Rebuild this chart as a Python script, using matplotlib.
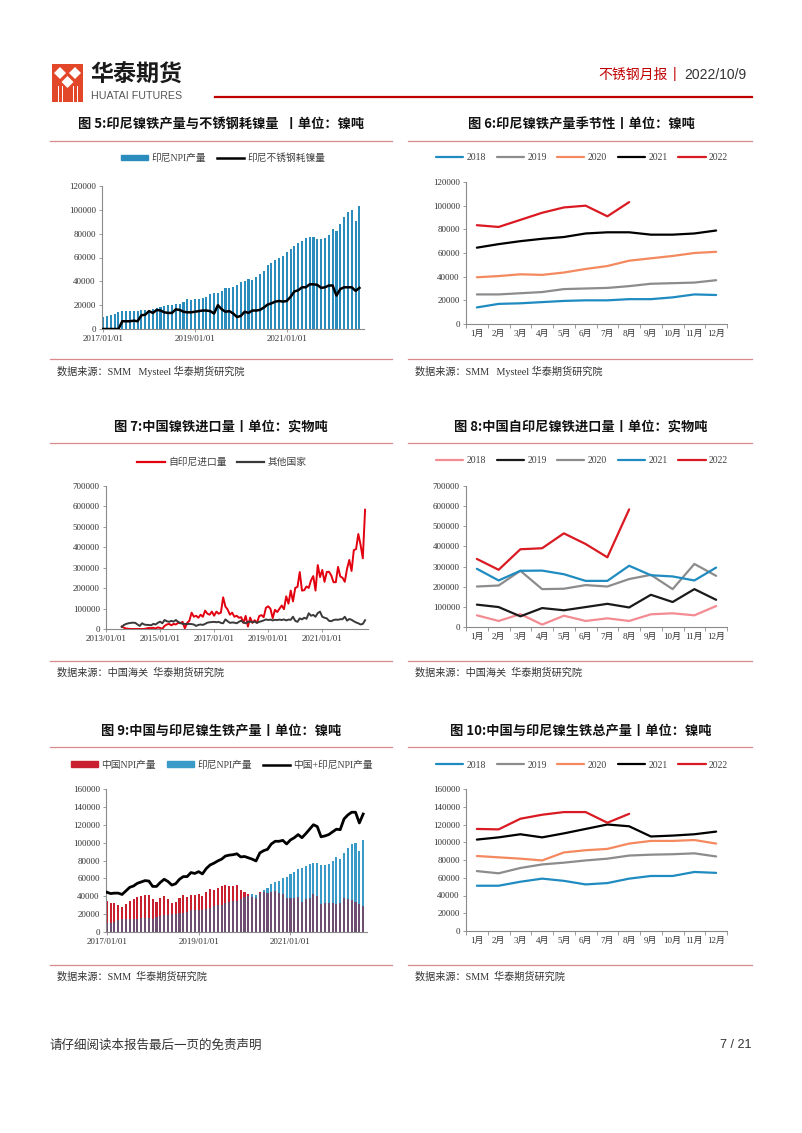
import numpy as np
import matplotlib
matplotlib.use('Agg')
import matplotlib.pyplot as plt
from matplotlib.patches import Rectangle, Polygon, Patch
from matplotlib.lines import Line2D
from matplotlib.ticker import FuncFormatter

W, H = 802, 1133
SERIF = ['Liberation Serif', 'Noto Sans CJK SC']
CJK = ['Noto Sans CJK SC', 'DejaVu Sans']
plt.rcParams['font.family'] = SERIF
plt.rcParams['axes.unicode_minus'] = False

# ---------------- data ----------------
months = ['1月', '2月', '3月', '4月', '5月', '6月', '7月', '8月', '9月', '10月', '11月', '12月']
years = ['2018', '2019', '2020', '2021', '2022']

# Indonesian NPI output (Ni t), monthly
indo_2017 = [10000, 10500, 11500, 13000, 14500, 15000, 15000, 15000, 15000, 15500, 16000, 16000]
indo_2018 = [14000, 17000, 17500, 18500, 19500, 20000, 20000, 21000, 21000, 22500, 25000, 24500]
indo_2019 = [25000, 25000, 26000, 27000, 29500, 30000, 30500, 32000, 34000, 34500, 35000, 37000]
indo_2020 = [39500, 40500, 42000, 41500, 43500, 46500, 49000, 53500, 55500, 57500, 60000, 61000]
indo_2021 = [64500, 67500, 70000, 72000, 73500, 76500, 77500, 77500, 75500, 75500, 76500, 79000]
indo_2022 = [83500, 82000, 88000, 94000, 98500, 100000, 91000, 103000]

# Indonesian stainless steel nickel consumption, 2017/01 - 2022/08
ss_ni = [0, 0, 0, 0, 0, 6500, 6500, 6500, 7000, 6500, 11500, 12000,
         15000, 13500, 16000, 15500, 14000, 13500, 13500, 16500, 16000, 14500, 14000, 14000,
         14500, 15000, 15500, 15500, 15000, 13000, 20000, 16500, 14500, 15000, 13000, 10000,
         11000, 14500, 13500, 15500, 15500, 16000, 18000, 20500, 21500, 23000, 23500, 23000,
         23500, 27000, 31500, 32500, 35000, 35000, 37500, 37500, 37000, 34500, 35000, 36500,
         36500, 28000, 33500, 35000, 35000, 35000, 32000, 34500]

# China NPI output (Ni t)
china_2017 = [34500, 32500, 32000, 30500, 27500, 31000, 35000, 36500, 39500, 40500, 41500, 41000]
china_2018 = [37000, 34000, 38000, 40500, 37000, 32500, 34000, 38000, 41000, 39500, 41500, 41000]
china_2019 = [42500, 40000, 45000, 48000, 47500, 49500, 51000, 53000, 52000, 52000, 52500, 47000]
china_2020 = [45000, 42500, 39500, 38000, 45000, 44500, 43500, 45000, 46000, 44000, 42500, 37500]
china_2021 = [38500, 38000, 39000, 33500, 36500, 38500, 42500, 40500, 31000, 32000, 32500, 33000]
china_2022 = [31500, 32500, 38500, 37000, 35500, 34000, 31000, 29000]

# China + Indonesia NPI output (Ni t)
total_2017 = [44500, 43000, 43500, 43500, 42000, 46000, 50000, 51500, 54500, 56000, 57500, 57000]
total_2018 = [51000, 51000, 55500, 59000, 56500, 52500, 54000, 59000, 62000, 62000, 66500, 65500]
total_2019 = [67500, 65000, 71000, 75000, 77000, 79500, 81500, 85000, 86000, 86500, 87500, 84000]
total_2020 = [84500, 83000, 81500, 79500, 88500, 91000, 92500, 98500, 101500, 101500, 102500, 98500]
total_2021 = [103000, 105500, 109000, 105500, 110000, 115000, 120000, 118000, 106500, 107500, 109000, 112000]
total_2022 = [115000, 114500, 126500, 131000, 134000, 134000, 122000, 132000]

# China NPI imports from Indonesia (physical t); 2013 starts in August
imp_idn_2013 = [12000, 6000, 2000, 1000, 0]
imp_idn_2014 = [0, 0, 0, 0, 0, 0, 3000, 5000, 4000, 6000, 2000, 8000]
imp_idn_2015 = [5000, 1000, 15000, 22000, 25000, 18000, 25000, 22000, 30000, 28000, 35000, 3000]
imp_idn_2016 = [30000, 40000, 80000, 60000, 65000, 55000, 70000, 60000, 90000, 75000, 70000, 85000]
imp_idn_2017 = [65000, 85000, 75000, 80000, 155000, 110000, 95000, 70000, 80000, 60000, 65000, 55000]
imp_idn_2018 = [58000, 30000, 64000, 12000, 56000, 30000, 43000, 30000, 63000, 68000, 58000, 104000]
imp_idn_2019 = [111000, 99000, 53000, 94000, 83000, 99000, 115000, 97000, 160000, 124000, 188000, 135000]
imp_idn_2020 = [201000, 206000, 279000, 188000, 190000, 208000, 201000, 238000, 259000, 188000, 313000, 254000]
imp_idn_2021 = [289000, 231000, 279000, 280000, 262000, 229000, 229000, 304000, 257000, 251000, 231000, 295000]
imp_idn_2022 = [338000, 284000, 386000, 391000, 465000, 412000, 346000, 584000]

# China NPI imports from other countries (physical t); 2013 starts in August
imp_oth_2013 = [10000, 20000, 25000, 28000, 30000]
imp_oth_2014 = [31000, 30000, 22000, 15000, 28000, 22000, 20000, 20000, 18000, 25000, 22000, 30000]
imp_oth_2015 = [36000, 28000, 44000, 38000, 35000, 40000, 36000, 44000, 35000, 30000, 25000, 25000]
imp_oth_2016 = [24000, 25000, 24000, 22000, 15000, 20000, 22000, 20000, 25000, 31000, 33000, 34000]
imp_oth_2017 = [35000, 33000, 35000, 30000, 28000, 47000, 38000, 30000, 32000, 31000, 28000, 35000]
imp_oth_2018 = [41000, 32000, 28000, 35000, 36000, 33000, 36000, 30000, 35000, 38000, 42000, 47000]
imp_oth_2019 = [44000, 46000, 42000, 45000, 44000, 46000, 44000, 47000, 42000, 46000, 45000, 60000]
imp_oth_2020 = [40000, 35000, 52000, 47000, 55000, 50000, 77000, 65000, 69000, 60000, 78000, 85000]
imp_oth_2021 = [60000, 55000, 52000, 40000, 38000, 44000, 46000, 45000, 48000, 48000, 60000, 41000]
imp_oth_2022 = [49000, 45000, 38000, 32000, 28000, 22000, 25000, 43000]

date_ticks_17 = ['2017/01/01', '2019/01/01', '2021/01/01']
date_ticks_13 = ['2013/01/01', '2015/01/01', '2017/01/01', '2019/01/01', '2021/01/01']

# --------------- assemble ---------------
indo_npi = indo_2017 + indo_2018 + indo_2019 + indo_2020 + indo_2021 + indo_2022
china_npi = china_2017 + china_2018 + china_2019 + china_2020 + china_2021 + china_2022
total_npi = total_2017 + total_2018 + total_2019 + total_2020 + total_2021 + total_2022
imp_idn = (imp_idn_2013 + imp_idn_2014 + imp_idn_2015 + imp_idn_2016 + imp_idn_2017 +
           imp_idn_2018 + imp_idn_2019 + imp_idn_2020 + imp_idn_2021 + imp_idn_2022)
imp_oth = (imp_oth_2013 + imp_oth_2014 + imp_oth_2015 + imp_oth_2016 + imp_oth_2017 +
           imp_oth_2018 + imp_oth_2019 + imp_oth_2020 + imp_oth_2021 + imp_oth_2022)

C_BLUE = '#1F8BC0'
C_GRAY = '#8C8C8C'
C_ORANGE = '#F4895F'
C_BLACK = '#000000'
C_RED = '#DA1A22'
C_PINK = '#F28C92'
C_BAR = '#2B8CBE'
TXT = '#333333'
SPINE = '#8a8a8a'

fig = plt.figure(figsize=(W / 100, H / 100), dpi=100)
deco = fig.add_axes([0, 0, 1, 1], zorder=-1)
deco.set_xlim(0, W)
deco.set_ylim(H, 0)
deco.axis('off')


def pax(l, t, r, b):
    return fig.add_axes([l / W, 1 - b / H, (r - l) / W, (b - t) / H])


def style(ax, ymax, ystep):
    for s in ['top', 'right']:
        ax.spines[s].set_visible(False)
    for s in ['left', 'bottom']:
        ax.spines[s].set_color(SPINE)
        ax.spines[s].set_linewidth(0.8)
    ax.set_ylim(0, ymax)
    ax.set_yticks(np.arange(0, ymax + 1, ystep))
    ax.yaxis.set_major_formatter(FuncFormatter(lambda v, p: f'{int(v)}'))
    ax.tick_params(axis='y', labelsize=6.5, labelcolor=TXT, length=2.5, width=0.6,
                   color=SPINE, pad=2)
    ax.tick_params(axis='x', labelsize=6.5, labelcolor=TXT, length=2.5, width=0.6,
                   color=SPINE, pad=2)
    ax.patch.set_alpha(0)


def seasonal(ax, data, colors, ymax, ystep):
    for lab, vals, c in zip(years, data, colors):
        ax.plot(np.arange(len(vals)), vals, color=c, lw=1.6, label=lab, solid_capstyle='round')
    style(ax, ymax, ystep)
    ax.set_xlim(-0.5, 11.5)
    ax.set_xticks(np.arange(12))
    ax.set_xticklabels(months)
    ax.set_xticks(np.arange(-0.5, 12, 1), minor=True)
    ax.tick_params(axis='x', which='major', length=0, pad=4.5)
    ax.tick_params(axis='x', which='minor', length=3, width=0.6, color=SPINE)


def legend(handles, labels, cx, cy):
    lg = fig.legend(handles, labels, loc='center', bbox_to_anchor=(cx / W, 1 - cy / H),
                    bbox_transform=fig.transFigure, ncol=len(labels), frameon=False,
                    fontsize=7, handlelength=2.8, handleheight=0.5, handletextpad=0.35,
                    columnspacing=1.1, borderpad=0, borderaxespad=0)
    for t in lg.get_texts():
        t.set_color('#404040')
    return lg


def frame(cx, ty, title, ly, sy, src, x0, x1):
    deco.text(cx, ty, title, ha='center', va='center', fontsize=9.5, fontweight='bold',
              family=CJK, color='#111111')
    deco.plot([x0, x1], [ly, ly], color='#D8898C', lw=0.9)
    deco.plot([x0, x1], [sy - 12, sy - 12], color='#D8898C', lw=0.9)
    deco.text(x0 + 7, sy, src, ha='left', va='center', fontsize=7.3, family=SERIF, color=TXT)


# ---------------- header ----------------
deco.add_patch(Rectangle((52, 64), 31, 38, color='#E2472A', lw=0))
for (cx, cy) in [(60, 73), (75, 73), (67.5, 82)]:
    deco.add_patch(Polygon([(cx, cy - 6), (cx + 6, cy), (cx, cy + 6), (cx - 6, cy)],
                           closed=True, color='white', lw=0))
for x in [58, 62, 73, 77]:
    deco.add_patch(Rectangle((x, 86), 1.4, 16, color='white', lw=0))
deco.text(90, 75, '华泰期货', ha='left', va='center', fontsize=16.6, fontweight='bold',
          family=CJK, color='#1a1a1a')
deco.text(91, 96, 'HUATAI FUTURES', ha='left', va='center', fontsize=7.7,
          family=['Liberation Sans'], color='#555555')
deco.text(668, 75, '不锈钢月报', ha='right', va='center', fontsize=10, family=CJK, color='#C00000')
deco.text(675, 74, '|', ha='center', va='center', fontsize=10, family=['Liberation Sans'],
          color='#C00000')
deco.text(684, 75, '2022/10/9', ha='left', va='center', fontsize=10,
          family=['Liberation Sans'], color='#333333')
deco.plot([215, 752], [97, 97], color='#C00000', lw=1.6)

# ---------------- titles / sources ----------------
src1 = '数据来源：SMM   Mysteel 华泰期货研究院'
src2 = '数据来源：中国海关  华泰期货研究院'
src3 = '数据来源：SMM  华泰期货研究院'
frame(221, 124, '图 5:印尼镍铁产量与不锈钢耗镍量  丨单位：镍吨', 141, 371, src1, 50, 392)
frame(581, 124, '图 6:印尼镍铁产量季节性丨单位：镍吨', 141, 371, src1, 408, 752)
frame(221, 427, '图 7:中国镍铁进口量丨单位：实物吨', 443, 673, src2, 50, 392)
frame(581, 427, '图 8:中国自印尼镍铁进口量丨单位：实物吨', 443, 673, src2, 408, 752)
frame(221, 730, '图 9:中国与印尼镍生铁产量丨单位：镍吨', 747, 977, src3, 50, 392)
frame(581, 730, '图 10:中国与印尼镍生铁总产量丨单位：镍吨', 747, 977, src3, 408, 752)

deco.text(50, 1045, '请仔细阅读本报告最后一页的免责声明', ha='left', va='center', fontsize=9,
          family=CJK, color='#333333')
deco.text(752, 1045, '7 / 21', ha='right', va='center', fontsize=9,
          family=['Liberation Sans'], color='#333333')

# ---------------- chart 5 ----------------
ax5 = pax(102, 186, 364, 329)
idx = np.arange(len(indo_npi))
ax5.bar(idx, indo_npi, width=0.55, color=C_BAR, zorder=2)
ax5.plot(np.arange(len(ss_ni)), ss_ni, color='black', lw=1.8, zorder=3)
style(ax5, 120000, 20000)
ax5.set_xlim(-0.3, 68.2)
ax5.set_xticks([0, 24, 48])
ax5.set_xticklabels(date_ticks_17)
legend([Patch(color=C_BAR), Line2D([], [], color='black', lw=1.8)],
       ['印尼NPI产量', '印尼不锈钢耗镍量'], 223, 158)

# ---------------- chart 6 ----------------
ax6 = pax(466, 182, 727, 324)
seasonal(ax6, [indo_2018, indo_2019, indo_2020, indo_2021, indo_2022],
         [C_BLUE, C_GRAY, C_ORANGE, C_BLACK, C_RED], 120000, 20000)
h, l = ax6.get_legend_handles_labels()
legend(h, l, 582, 158)

# ---------------- chart 7 ----------------
ax7 = pax(106, 486, 368, 629)
m0 = 7
ax7.plot(np.arange(m0, m0 + len(imp_idn)), imp_idn, color='#E3000F', lw=1.4, zorder=2)
ax7.plot(np.arange(m0, m0 + len(imp_oth)), imp_oth, color='#3a3a3a', lw=1.4, zorder=3)
style(ax7, 700000, 100000)
ax7.set_xlim(0, 116.3)
ax7.set_xticks([0, 24, 48, 72, 96])
ax7.set_xticklabels(date_ticks_13)
legend([Line2D([], [], color='#E3000F', lw=1.6), Line2D([], [], color='#3a3a3a', lw=1.6)],
       ['自印尼进口量', '其他国家'], 222, 462)

# ---------------- chart 8 ----------------
ax8 = pax(466, 486, 727, 627)
seasonal(ax8, [imp_idn_2018, imp_idn_2019, imp_idn_2020, imp_idn_2021, imp_idn_2022],
         [C_PINK, '#1a1a1a', C_GRAY, C_BLUE, C_RED], 700000, 100000)
h, l = ax8.get_legend_handles_labels()
legend(h, l, 582, 461)

# ---------------- chart 9 ----------------
ax9 = pax(106, 789, 367, 932)
idx = np.arange(len(china_npi))
ax9.bar(idx, china_npi, width=0.55, color='#C8202F', zorder=2)
ax9.bar(idx, indo_npi, width=0.55, color='#3A9BC8', zorder=2)
ax9.bar(idx, np.minimum(china_npi, indo_npi), width=0.55, color='#6E4E70', zorder=2)
ax9.plot(np.arange(len(total_npi)), total_npi, color='black', lw=2.0, zorder=3)
style(ax9, 160000, 20000)
ax9.set_xlim(-0.2, 68.0)
ax9.set_xticks([0, 24, 48])
ax9.set_xticklabels(date_ticks_17)
legend([Patch(color='#C8202F'), Patch(color='#3A9BC8'), Line2D([], [], color='black', lw=1.8)],
       ['中国NPI产量', '印尼NPI产量', '中国+印尼NPI产量'], 222, 765)

# ---------------- chart 10 ----------------
ax10 = pax(466, 789, 727, 931)
seasonal(ax10, [total_2018, total_2019, total_2020, total_2021, total_2022],
         [C_BLUE, C_GRAY, C_ORANGE, C_BLACK, C_RED], 160000, 20000)
h, l = ax10.get_legend_handles_labels()
legend(h, l, 582, 765)

fig.savefig('out.png', dpi=100)
